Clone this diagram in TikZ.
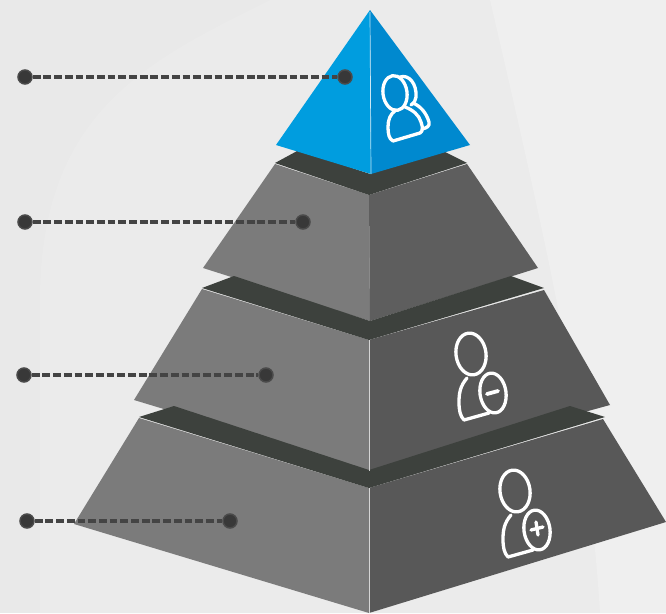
\documentclass[tikz,border=0pt]{standalone}
\definecolor{bgA}{HTML}{E9E9E9}
\definecolor{bgB}{HTML}{EBEBEB}
\definecolor{bgC}{HTML}{EFEFEF}
\definecolor{blueL}{HTML}{009DDF}
\definecolor{blueR}{HTML}{0089CF}
\definecolor{tiershadow}{HTML}{3D413D}
\definecolor{faceL}{HTML}{7B7B7B}
\definecolor{faceR}{HTML}{5E5E5E}
\definecolor{faceRd}{HTML}{585858}
\definecolor{dotc}{HTML}{383838}
\definecolor{dotr}{HTML}{4A4A4A}
\definecolor{leadc}{HTML}{444444}
\tikzset{
  dotnode/.style={circle,fill=dotc,draw=dotr,line width=1.5pt,minimum size=14pt,inner sep=0pt},
  leader/.style={draw=leadc,line width=3.2pt,dash pattern=on 7.8pt off 2.9pt},
  iconline/.style={draw=white,line width=3.3pt,line cap=round,line join=round},
  seam/.style={draw=white,line width=0.7pt,opacity=0.75}
}
\newcommand{\personicon}{%
  \draw[iconline,rotate around={8:(471,354)}] (471,354) ellipse [x radius=15,y radius=21];
  \draw[iconline] (467,378) .. controls (460,386) and (459,394) .. (459,402) .. controls (459,410) and (460,416) .. (464,420) -- (489,413);
  \draw[iconline,rotate around={8:(493,393)}] (493,393) ellipse [x radius=13,y radius=20];
}
\begin{document}
\begin{tikzpicture}[x=1pt,y=-1pt]
\useasboundingbox (0,0) rectangle (666,613);
% background
\fill[bgA] (0,0) rectangle (666,613);
\fill[bgB] (270,0) .. controls (150,60) and (40,110) .. (40,300) -- (40,613) -- (666,613) -- (666,0) -- cycle;
\fill[bgC] (490,0) -- (666,0) -- (666,613) -- (600,613) .. controls (590,450) and (560,300) .. cycle;
% tier 4
\fill[faceL] (139,418) -- (74,524) -- (369,613) -- (369,488) -- cycle;
\fill[faceRd] (369,488) -- (369,613) -- (666,522) -- (603,419) -- cycle;
% tier 3
\fill[faceL] (202,289) -- (134,400) -- (369,471) -- (369,340) -- cycle;
\fill[faceRd] (369,340) -- (369,471) -- (610,405) -- (544,290) -- cycle;
\fill[tiershadow] (139,417) -- (174,406) -- (369,470) -- (570,406) -- (605,417) -- (369,488) -- cycle;
% tier 2
\fill[faceL] (275,164) -- (203,268) -- (370,321) -- (369,195) -- cycle;
\fill[faceR] (369,195) -- (370,321) -- (538,268) -- (467,164) -- cycle;
\fill[tiershadow] (202,288) -- (234,276) -- (370,321) -- (511,276) -- (544,288) -- (369,340) -- cycle;
% top
\fill[tiershadow] (275,163) -- (299,150) -- (370,174) -- (441,150) -- (467,163) -- (369,195) -- cycle;
\fill[blueL] (370,10) -- (276,145) -- (371,174) -- cycle;
\fill[blueR] (370,10) -- (371,174) -- (470,145) -- cycle;
% seams
\draw[seam] (370,12) -- (371,174);
\draw[seam] (369,340) -- (369,471);
\draw[seam] (369,488) -- (369,613);
% blue icon
\draw[iconline,rotate around={8:(395,93)}] (395,93) ellipse [x radius=12,y radius=17.5];
\draw[iconline] (400,77) .. controls (409,74) and (417,84) .. (416,97) .. controls (416,100) and (414,103) .. (411,105);
\draw[iconline] (396,110) .. controls (390,114) and (388,120) .. (388,127) .. controls (388,134) and (389,139) .. (393,141) -- (420,133) .. controls (423,131) and (423,128) .. (421,122) .. controls (419,115) and (413,110) .. (405,107);
\draw[iconline] (413,103) .. controls (420,106) and (426,112) .. (429,122) .. controls (430,126) and (427,128) .. (422,129);
% minus icon
\personicon
\draw[iconline,line width=3.8pt] (487,394) -- (498,391);
% plus icon
\begin{scope}[shift={(44,137)}]
\personicon
\draw[iconline] (487,393) -- (499,390);
\draw[iconline] (492,385) -- (494,398);
\end{scope}
% leaders
\node[dotnode] (a1) at (25,77) {};
\node[dotnode] (b1) at (345,77) {};
\node[dotnode] (a2) at (25,222) {};
\node[dotnode] (b2) at (303,222) {};
\node[dotnode] (a3) at (24,375) {};
\node[dotnode] (b3) at (266,375) {};
\node[dotnode] (a4) at (27,521) {};
\node[dotnode] (b4) at (230,521) {};
\draw[leader] (a1) -- (b1);
\draw[leader] (a2) -- (b2);
\draw[leader] (a3) -- (b3);
\draw[leader] (a4) -- (b4);
\end{tikzpicture}
\end{document}
